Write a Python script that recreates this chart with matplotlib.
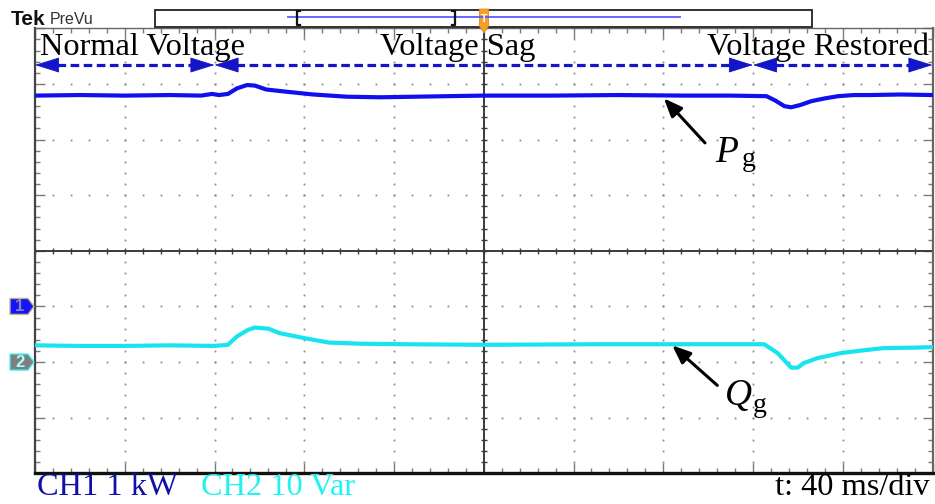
import matplotlib
matplotlib.use("Agg")
import matplotlib.pyplot as plt
import numpy as np
from matplotlib.patches import Polygon, Rectangle
from matplotlib.transforms import blended_transform_factory

W, H, DPI = 935, 504, 100

# Acquisition settings
time_per_div_ms = 40
n_hdiv, n_vdiv = 10, 8
ch1_scale_kw = 1.0      # kW/div
ch2_scale_var = 10.0    # Var/div
ch1_offset_div = -1.0
ch2_offset_div = -2.0

# Operating stages (ms)
stage_edges_ms = [0, 80, 320, 400]
stage_labels = ["Normal Voltage", "Voltage Sag", "Voltage Restored"]

# CH1: grid active power P_g (kW)
p_time_ms = [0, 20, 40, 60, 74, 79, 82, 86, 90, 94.5, 98, 103, 112, 124, 139,
             154, 169, 184, 200, 230, 260, 290, 310, 326, 330, 334, 337, 341,
             346, 352, 358, 365, 372, 386, 400]
p_kw = [3.79, 3.80, 3.79, 3.80, 3.79, 3.82, 3.80, 3.82, 3.92, 3.98, 3.97, 3.90,
        3.86, 3.81, 3.77, 3.76, 3.77, 3.78, 3.79, 3.79, 3.80, 3.79, 3.79, 3.78,
        3.70, 3.60, 3.58, 3.62, 3.69, 3.74, 3.78, 3.80, 3.80, 3.81, 3.80]

# CH2: grid reactive power Q_g (Var)
q_time_ms = [0, 20, 40, 60, 80, 86, 90, 95, 98, 104, 109, 120, 131, 145, 165,
             200, 250, 300, 325, 331, 337, 340, 342.5, 348.7, 359, 369, 378,
             393, 400]
q_var = [3.0, 2.9, 2.9, 3.0, 2.9, 3.1, 4.6, 5.8, 6.2, 6.0, 5.2, 4.3, 3.5, 3.3,
         3.2, 3.1, 3.2, 3.2, 3.2, 1.6, -1.0, -1.0, -0.2, 0.7, 1.6, 2.1, 2.5,
         2.6, 2.7]

SERIF = "Liberation Serif"
SANS = "Liberation Sans"
P_COLOR = "#1010ee"
Q_COLOR = "#18e4f0"
ARROW_BLUE = "#1414c8"
LABEL_SIZE = 23.3

fig = plt.figure(figsize=(W / DPI, H / DPI), dpi=DPI, facecolor="white")


def fx(px):
    return px / W


def fy(py):
    return 1 - py / H


# Graticule area
g_left, g_right, g_top, g_bottom = 35, 932.5, 28.3, 473.3
ax = fig.add_axes([fx(g_left), fy(g_bottom), fx(g_right - g_left), fy(g_top) - fy(g_bottom)])
t_max = n_hdiv * time_per_div_ms
ax.set_xlim(0, t_max)
ax.set_ylim(-n_vdiv / 2, n_vdiv / 2)
ax.set_facecolor("white")

# Border ticks
ax.set_xticks(np.arange(0, t_max + 1, time_per_div_ms))
ax.set_xticks(np.arange(0, t_max + 1, time_per_div_ms / 5), minor=True)
ax.set_yticks(np.arange(-4, 5, 1))
ax.set_yticks(np.arange(-4, 4.01, 0.2), minor=True)
ax.tick_params(which="both", direction="in", top=True, right=True,
               labelbottom=False, labelleft=False, color="#7a7a7a", width=1)
ax.tick_params(which="major", length=7)
ax.tick_params(which="minor", length=3.5)
ax.spines["bottom"].set_linewidth(2.4)
ax.spines["bottom"].set_color("#111111")
ax.spines["left"].set_linewidth(1.6)
ax.spines["left"].set_color("#444444")
ax.spines["top"].set_linewidth(1.0)
ax.spines["top"].set_color("#666666")
ax.spines["right"].set_linewidth(1.6)
ax.spines["right"].set_color("#666666")

# Dotted grid
minor_x = np.arange(0, t_max + 0.1, time_per_div_ms / 5)
minor_y = np.arange(-4, 4.01, 0.2)
for k in range(1, n_hdiv):
    if k == n_hdiv // 2:
        continue
    ax.plot(np.full_like(minor_y, k * time_per_div_ms), minor_y, ls="none",
            marker="s", ms=1.3, mew=0, color="#8c8c8c", zorder=1)
for j in range(-3, 4):
    if j == 0:
        continue
    ax.plot(minor_x, np.full_like(minor_x, j), ls="none",
            marker="s", ms=1.3, mew=0, color="#8c8c8c", zorder=1)

# Center cross with ticks
ax.axhline(0, color="#3a3a3a", lw=1.4, zorder=2)
ax.axvline(t_max / 2, color="#3a3a3a", lw=1.4, zorder=2)
ax.plot(minor_x, np.zeros_like(minor_x), ls="none", marker="|", ms=5,
        mew=1, color="#3a3a3a", zorder=2)
ax.plot(np.full_like(minor_y, t_max / 2), minor_y, ls="none", marker="_", ms=5,
        mew=1, color="#3a3a3a", zorder=2)

# Traces
p_div = np.array(p_kw) / ch1_scale_kw + ch1_offset_div
q_div = np.array(q_var) / ch2_scale_var + ch2_offset_div
ax.plot(p_time_ms, p_div, color=P_COLOR, lw=3.0, zorder=4, solid_joinstyle="round")
ax.plot(q_time_ms, q_div, color=Q_COLOR, lw=3.0, zorder=4, solid_joinstyle="round")

# Stage spans: dashed double-headed arrows
span_y = 3.34
head_ms = 22 / ((g_right - g_left) / t_max)
for a, b in zip(stage_edges_ms[:-1], stage_edges_ms[1:]):
    ax.plot([a + head_ms, b - head_ms], [span_y, span_y], color=ARROW_BLUE,
            lw=2.3, ls=(0, (2.7, 1.4)), zorder=5, dash_capstyle="butt")
    for tip, base in ((a, a + head_ms), (b, b - head_ms)):
        ax.annotate("", xy=(tip, span_y), xytext=(base, span_y),
                    arrowprops=dict(arrowstyle="-|>,head_length=16,head_width=5",
                                    mutation_scale=1, color=ARROW_BLUE, lw=0.6,
                                    shrinkA=0, shrinkB=0), zorder=5)

# Stage labels
lab_y = 3.52
ax.text(2.2, lab_y, stage_labels[0], family=SERIF, fontsize=LABEL_SIZE, ha="left",
        va="baseline", zorder=6)
ax.text(153.8, lab_y, stage_labels[1], family=SERIF, fontsize=LABEL_SIZE, ha="left",
        va="baseline", zorder=6)
ax.text(398.3, lab_y, stage_labels[2], family=SERIF, fontsize=LABEL_SIZE, ha="right",
        va="baseline", zorder=6)

# Trace call-outs
ax.annotate("", xy=(280.3, 2.74), xytext=(298.6, 1.94),
            arrowprops=dict(arrowstyle="-|>,head_length=11,head_width=4.5",
                            mutation_scale=1, color="black", lw=2.2,
                            shrinkA=0, shrinkB=0), zorder=6)
ax.text(303.0, 1.59, "P", family=SERIF, style="italic", fontsize=27,
        ha="left", va="baseline", zorder=6)
ax.text(315.0, 1.52, "g", family=SERIF, fontsize=20, ha="left",
        va="baseline", zorder=6)

ax.annotate("", xy=(284.0, -1.70), xytext=(304.1, -2.42),
            arrowprops=dict(arrowstyle="-|>,head_length=11,head_width=4.5",
                            mutation_scale=1, color="black", lw=2.2,
                            shrinkA=0, shrinkB=0), zorder=6)
ax.text(307.5, -2.78, "Q", family=SERIF, style="italic", fontsize=27,
        ha="left", va="baseline", zorder=6)
ax.text(320.0, -2.90, "g", family=SERIF, fontsize=20, ha="left",
        va="baseline", zorder=6)

# Channel ground markers on the left edge
mk = blended_transform_factory(fig.transFigure, ax.transData)
dy = 8 / 55.6
for off, face, edge, txt_col, label in ((ch1_offset_div, "#1414ff", "#c8b878", "#8a8aa8", "1"),
                                       (ch2_offset_div, "#7f7f7f", "#40f0f0", "#a8ffff", "2")):
    pts = [(fx(10), off + dy), (fx(28), off + dy), (fx(34), off),
           (fx(28), off - dy), (fx(10), off - dy)]
    fig.patches.append(Polygon(pts, closed=True, transform=mk, facecolor=face,
                               edgecolor=edge, lw=1.0, clip_on=False))
    fig.text(fx(20), off - 0.01, label, transform=mk, family=SANS, fontsize=12,
             fontweight="bold", color=txt_col, ha="center", va="center")

# Header: logo, record view and trigger marker
fig.text(fx(11), fy(25), "Tek", family=SANS, fontweight="bold", fontsize=15,
         color="#111111", ha="left", va="baseline")
fig.text(fx(50), fy(24), "PreVu", family=SANS, fontsize=11.5, color="#333333",
         ha="left", va="baseline")
fig.patches.append(Rectangle((fx(155), fy(26.5)), fx(812 - 155), fy(9.5) - fy(26.5),
                             transform=fig.transFigure, facecolor="white",
                             edgecolor="#222222", lw=1.3))
fig.lines.append(plt.Line2D([fx(288), fx(680)], [fy(17), fy(17)],
                            transform=fig.transFigure, color="#5a5aff", lw=1.3))
for bx, sgn in ((297, 1), (455, -1)):
    fig.lines.append(plt.Line2D([fx(bx + 3 * sgn), fx(bx), fx(bx), fx(bx + 3 * sgn)],
                                [fy(11), fy(11), fy(25), fy(25)],
                                transform=fig.transFigure, color="#111111", lw=1.6))
trig = [(fx(479.5), fy(9)), (fx(488.5), fy(9)), (fx(488.5), fy(26)),
        (fx(484), fy(33)), (fx(479.5), fy(26))]
fig.patches.append(Polygon(trig, closed=True, transform=fig.transFigure,
                           facecolor="#f5a028", edgecolor="#e08c10", lw=0.6))
fig.text(fx(484), fy(18.5), "T", family=SANS, fontsize=7.5, fontweight="bold",
         color="white", ha="center", va="center")

# Channel settings readout
fig.text(fx(37), fy(495), "CH1 1 kW", family=SERIF, fontsize=LABEL_SIZE, color="#1010a8",
         ha="left", va="baseline")
fig.text(fx(201), fy(495), "CH2 10 Var", family=SERIF, fontsize=LABEL_SIZE, color="#20f2f2",
         ha="left", va="baseline")
fig.text(fx(930), fy(495), "t: 40 ms/div", family=SERIF, fontsize=LABEL_SIZE, color="black",
         ha="right", va="baseline")

fig.savefig("out.png", dpi=DPI, facecolor="white")
